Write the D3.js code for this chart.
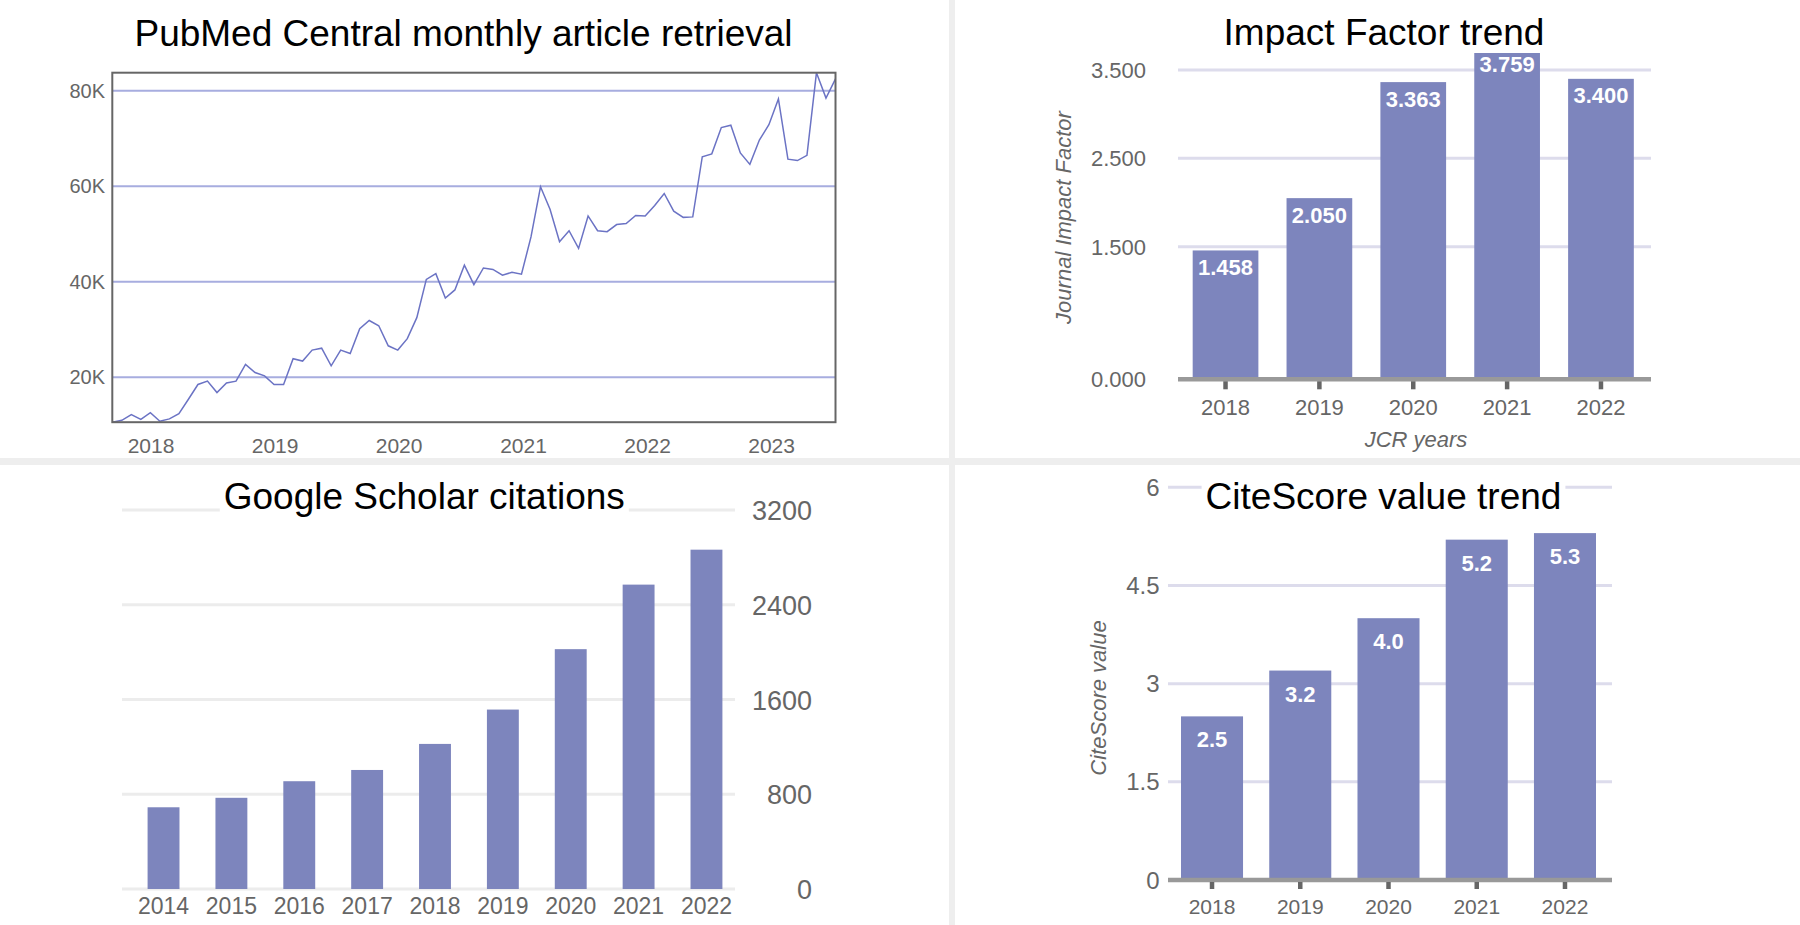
<!DOCTYPE html>
<html>
<head>
<meta charset="utf-8">
<script src="https://cdn.jsdelivr.net/npm/d3@7"></script>
<style>
  html, body { margin: 0; padding: 0; background: #ffffff; }
  svg { display: block; font-family: "Liberation Sans", Arial, Helvetica, sans-serif; }
</style>
</head>
<body>
<svg id="chart" width="1800" height="925"></svg>
<script>
// ---------------- DATA ----------------
// PubMed Central retrievals (one reading every 4 weeks)
const pmcStartDate = "2017-09-09";
const pmcIntervalDays = 28;
const pmcRetrievals = [
  10600, 11000, 12200, 11200, 12600, 10800, 11300, 12400, 15400, 18500,
  19200, 16800, 18800, 19200, 22700, 21000, 20300, 18500, 18500, 23900,
  23400, 25700, 26100, 22400, 25700, 25000, 30200, 31900, 30800, 26600,
  25700, 28100, 32500, 40500, 41700, 36600, 38300, 43500, 39400, 42900,
  42600, 41400, 42000, 41600, 49400, 59900, 55200, 48400, 50700, 47000,
  53800, 50700, 50500, 52000, 52200, 53900, 53800, 56000, 58500, 54800,
  53500, 53600, 66200, 66800, 72300, 72800, 67000, 64600, 69700, 72900,
  78300, 65700, 65400, 66500, 83800, 78500, 82500
];
const pmcYTicks = [20000, 40000, 60000, 80000];
const pmcYTickLabels = ["20K", "40K", "60K", "80K"];
const pmcXTickYears = [2018, 2019, 2020, 2021, 2022, 2023];

// Impact Factor
const ifYears = ["2018", "2019", "2020", "2021", "2022"];
const ifValues = [1.458, 2.050, 3.363, 3.759, 3.400];
const ifTicks = [0, 1.5, 2.5, 3.5];

// Google Scholar citations
const gsYears = ["2014", "2015", "2016", "2017", "2018", "2019", "2020", "2021", "2022"];
const gsCitations = [690, 770, 910, 1005, 1225, 1515, 2025, 2570, 2865];
const gsTicks = [0, 800, 1600, 2400, 3200];

// CiteScore
const csYears = ["2018", "2019", "2020", "2021", "2022"];
const csValues = [2.5, 3.2, 4.0, 5.2, 5.3];
const csTicks = [0, 1.5, 3, 4.5, 6];

// ---------------- STYLE ----------------
const BAR = "#7d85bd";
const LINE = "#6b73c4";
const GRAY_TXT = "#666666";

const svg = d3.select("#chart");
svg.append("rect").attr("width", 1800).attr("height", 925).attr("fill", "#fff");
// panel dividers
svg.append("rect").attr("x", 949).attr("y", 0).attr("width", 6).attr("height", 925).attr("fill", "#eeeeee");
svg.append("rect").attr("x", 0).attr("y", 458).attr("width", 1800).attr("height", 7).attr("fill", "#eeeeee");

function title(g, text, cx, baseline) {
  const bg = g.append("rect").attr("fill", "#fff");
  const t = g.append("text").attr("x", cx).attr("y", baseline)
    .attr("text-anchor", "middle").attr("font-size", 37).attr("fill", "#000").text(text);
  const b = t.node().getBBox();
  bg.attr("x", b.x - 4).attr("y", b.y).attr("width", b.width + 8).attr("height", b.height);
}

// ---------------- PANEL 1: line ----------------
(function () {
  const g = svg.append("g");
  const parse = d3.timeParse("%Y-%m-%d");
  const start = parse(pmcStartDate);
  const pts = pmcRetrievals.map((v, i) => ({ date: d3.timeDay.offset(start, i * pmcIntervalDays), v }));
  const L = 112.3, R = 835.5, T = 72.7, B = 422.2;
  const x = d3.scaleTime().domain(d3.extent(pts, d => d.date)).range([L, R]);
  const y = d3.scaleLinear().domain(d3.extent(pts, d => d.v)).range([B, T]);

  g.selectAll(".grid").data(pmcYTicks).join("line")
    .attr("x1", L).attr("x2", R).attr("y1", d => y(d)).attr("y2", d => y(d))
    .attr("stroke", "#a7addf").attr("stroke-width", 2);

  g.selectAll(".ylab").data(pmcYTicks).join("text")
    .attr("x", 105).attr("y", d => y(d) + 7).attr("text-anchor", "end")
    .attr("font-size", 20).attr("fill", GRAY_TXT).text((d, i) => pmcYTickLabels[i]);

  g.append("path").datum(pts)
    .attr("d", d3.line().x(d => x(d.date)).y(d => y(d.v)))
    .attr("fill", "none").attr("stroke", LINE).attr("stroke-width", 1.5).attr("stroke-linejoin", "miter");

  g.append("rect").attr("x", L).attr("y", T).attr("width", R - L).attr("height", B - T)
    .attr("fill", "none").attr("stroke", "#666").attr("stroke-width", 2);

  g.selectAll(".xlab").data(pmcXTickYears).join("text")
    .attr("x", d => x(new Date(d, 0, 1))).attr("y", 452.5).attr("text-anchor", "middle")
    .attr("font-size", 21).attr("fill", GRAY_TXT).text(d => d);

  title(g, "PubMed Central monthly article retrieval", 463.5, 46);
})();

// ---------------- PANEL 2: Impact Factor ----------------
(function () {
  const g = svg.append("g");
  const x = d3.scaleBand().domain(ifYears).range([1178.6, 1647.9]).paddingInner(0.3).paddingOuter(0.15);
  const y = d3.scaleLinear().domain([0, 3.5]).range([379.3, 70]);
  const GL = 1178, GR = 1651;

  g.selectAll(".grid").data(ifTicks.filter(t => t > 0)).join("line")
    .attr("x1", GL).attr("x2", GR).attr("y1", d => y(d)).attr("y2", d => y(d))
    .attr("stroke", "#dddcec").attr("stroke-width", 3);

  g.selectAll(".ylab").data(ifTicks).join("text")
    .attr("x", 1146).attr("y", d => y(d) + 8).attr("text-anchor", "end")
    .attr("font-size", 22).attr("fill", GRAY_TXT).text(d => d3.format(".3f")(d));

  g.selectAll(".bar").data(ifValues).join("rect")
    .attr("x", (d, i) => x(ifYears[i])).attr("width", x.bandwidth())
    .attr("y", d => y(d)).attr("height", d => y(0) - y(d)).attr("fill", BAR);

  g.append("line").attr("x1", GL).attr("x2", GR).attr("y1", y(0)).attr("y2", y(0))
    .attr("stroke", "#999").attr("stroke-width", 4.5);
  g.selectAll(".tick").data(ifYears).join("line")
    .attr("x1", d => x(d) + x.bandwidth() / 2).attr("x2", d => x(d) + x.bandwidth() / 2)
    .attr("y1", y(0) + 2).attr("y2", y(0) + 10).attr("stroke", "#666").attr("stroke-width", 4.5);

  g.selectAll(".xlab").data(ifYears).join("text")
    .attr("x", d => x(d) + x.bandwidth() / 2).attr("y", 415).attr("text-anchor", "middle")
    .attr("font-size", 22).attr("fill", GRAY_TXT).text(d => d);

  g.selectAll(".vlab").data(ifValues).join("text")
    .attr("x", (d, i) => x(ifYears[i]) + x.bandwidth() / 2).attr("y", d => y(d) + 24.5)
    .attr("text-anchor", "middle").attr("font-size", 22).attr("font-weight", "bold")
    .attr("fill", "#fff").text(d => d3.format(".3f")(d));

  g.append("text").attr("transform", "translate(1071,217.5) rotate(-90)")
    .attr("text-anchor", "middle").attr("font-size", 22).attr("font-style", "italic")
    .attr("fill", GRAY_TXT).text("Journal Impact Factor");
  g.append("text").attr("x", 1416).attr("y", 447).attr("text-anchor", "middle")
    .attr("font-size", 22).attr("font-style", "italic").attr("fill", GRAY_TXT).text("JCR years");

  title(g, "Impact Factor trend", 1384, 45);
})();

// ---------------- PANEL 3: Google Scholar ----------------
(function () {
  const g = svg.append("g");
  const x = d3.scaleBand().domain(gsYears).range([129.6, 740.4]).paddingInner(0.53).paddingOuter(0.265);
  const y = d3.scaleLinear().domain([0, 3200]).range([889, 510]);

  g.selectAll(".grid").data(gsTicks).join("line")
    .attr("x1", 122).attr("x2", 735).attr("y1", d => y(d)).attr("y2", d => y(d))
    .attr("stroke", "#ececec").attr("stroke-width", 3);

  g.selectAll(".bar").data(gsCitations).join("rect")
    .attr("x", (d, i) => x(gsYears[i])).attr("width", x.bandwidth())
    .attr("y", d => y(d)).attr("height", d => y(0) - y(d)).attr("fill", BAR);

  g.selectAll(".ylab").data(gsTicks).join("text")
    .attr("x", 812).attr("y", d => y(d) + 10).attr("text-anchor", "end")
    .attr("font-size", 27).attr("fill", GRAY_TXT).text(d => d);

  g.selectAll(".xlab").data(gsYears).join("text")
    .attr("x", d => x(d) + x.bandwidth() / 2).attr("y", 913.5).attr("text-anchor", "middle")
    .attr("font-size", 23).attr("fill", GRAY_TXT).text(d => d);

  title(g, "Google Scholar citations", 424.3, 509);
})();

// ---------------- PANEL 4: CiteScore ----------------
(function () {
  const g = svg.append("g");
  const x = d3.scaleBand().domain(csYears).range([1167.9, 1609.1]).paddingInner(0.297).paddingOuter(0.1485);
  const y = d3.scaleLinear().domain([0, 6]).range([880, 487.3]);
  const GL = 1168, GR = 1612;

  g.selectAll(".grid").data(csTicks.filter(t => t > 0)).join("line")
    .attr("x1", GL).attr("x2", GR).attr("y1", d => y(d)).attr("y2", d => y(d))
    .attr("stroke", "#dddcec").attr("stroke-width", 3);

  g.selectAll(".ylab").data(csTicks).join("text")
    .attr("x", 1159.5).attr("y", d => y(d) + 8.5).attr("text-anchor", "end")
    .attr("font-size", 24).attr("fill", GRAY_TXT).text(d => d);

  g.selectAll(".bar").data(csValues).join("rect")
    .attr("x", (d, i) => x(csYears[i])).attr("width", x.bandwidth())
    .attr("y", d => y(d)).attr("height", d => y(0) - y(d)).attr("fill", BAR);

  g.append("line").attr("x1", GL).attr("x2", GR).attr("y1", y(0)).attr("y2", y(0))
    .attr("stroke", "#999").attr("stroke-width", 4.5);
  g.selectAll(".tick").data(csYears).join("line")
    .attr("x1", d => x(d) + x.bandwidth() / 2).attr("x2", d => x(d) + x.bandwidth() / 2)
    .attr("y1", y(0) + 2).attr("y2", y(0) + 9).attr("stroke", "#666").attr("stroke-width", 4.5);

  g.selectAll(".xlab").data(csYears).join("text")
    .attr("x", d => x(d) + x.bandwidth() / 2).attr("y", 914).attr("text-anchor", "middle")
    .attr("font-size", 21).attr("fill", GRAY_TXT).text(d => d);

  g.selectAll(".vlab").data(csValues).join("text")
    .attr("x", (d, i) => x(csYears[i]) + x.bandwidth() / 2).attr("y", d => y(d) + 31)
    .attr("text-anchor", "middle").attr("font-size", 22).attr("font-weight", "bold")
    .attr("fill", "#fff").text(d => d3.format(".1f")(d));

  g.append("text").attr("transform", "translate(1106,698) rotate(-90)")
    .attr("text-anchor", "middle").attr("font-size", 22).attr("font-style", "italic")
    .attr("fill", GRAY_TXT).text("CiteScore value");

  title(g, "CiteScore value trend", 1383.5, 509.3);
})();
</script>
</body>
</html>
